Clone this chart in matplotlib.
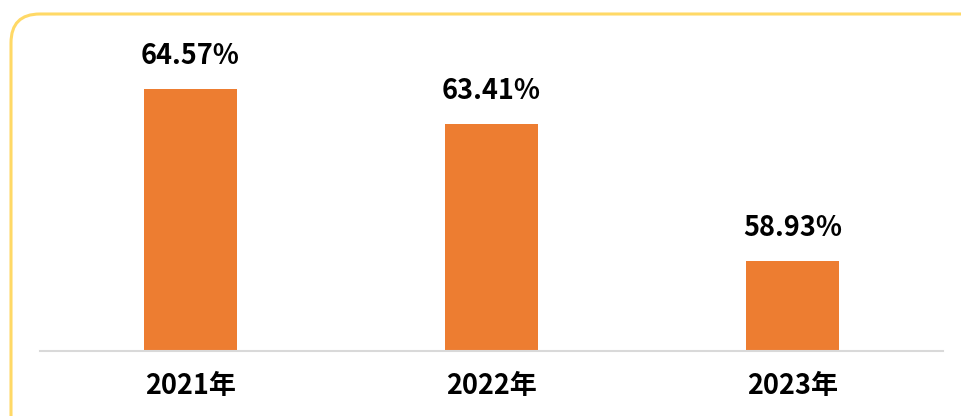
import matplotlib
matplotlib.use("Agg")
import matplotlib.pyplot as plt
from matplotlib.patches import FancyBboxPatch

plt.rcParams['font.family'] = ['Noto Sans CJK SC', 'DejaVu Sans']

categories = ['2021年', '2022年', '2023年']
values = [64.57, 63.41, 58.93]
labels = ['64.57%', '63.41%', '58.93%']

W, H = 962, 416
fig = plt.figure(figsize=(W/100, H/100), dpi=100, facecolor='white')

# rounded border
border = FancyBboxPatch((11/W, -40/H), (W + 40 - 11)/W, (H - 14 + 40)/H,
                        boxstyle="round,pad=0,rounding_size=0.03",
                        transform=fig.transFigure, facecolor='none',
                        edgecolor='#FFD966', linewidth=2.2, zorder=-10,
                        mutation_aspect=W/H)
fig.patches.append(border)

ax = fig.add_axes([40/W, (H-351)/H, (943-40)/W, (351-20)/H])
ax.set_zorder(5)
ax.set_facecolor('none')
x = range(len(categories))
ax.bar(x, values, width=0.31, color='#ED7D31', zorder=2)
ax.set_xlim(-0.5, 2.5)
ax.set_ylim(56, 66.82)
for xi, v, lab in zip(x, values, labels):
    ax.text(xi, v + 0.62, lab, ha='center', va='bottom', fontsize=19.5,
            fontweight='bold', color='#000000')
ax.set_xticks(list(x))
ax.set_xticklabels(categories, fontsize=19.5, fontweight='bold')
ax.tick_params(axis='x', length=0, pad=15)
ax.set_yticks([])
for s in ['top', 'right', 'left']:
    ax.spines[s].set_visible(False)
ax.spines['bottom'].set_color('#D9D9D9')
ax.spines['bottom'].set_linewidth(1.5)

fig.savefig('out.png', dpi=100, facecolor='white')
